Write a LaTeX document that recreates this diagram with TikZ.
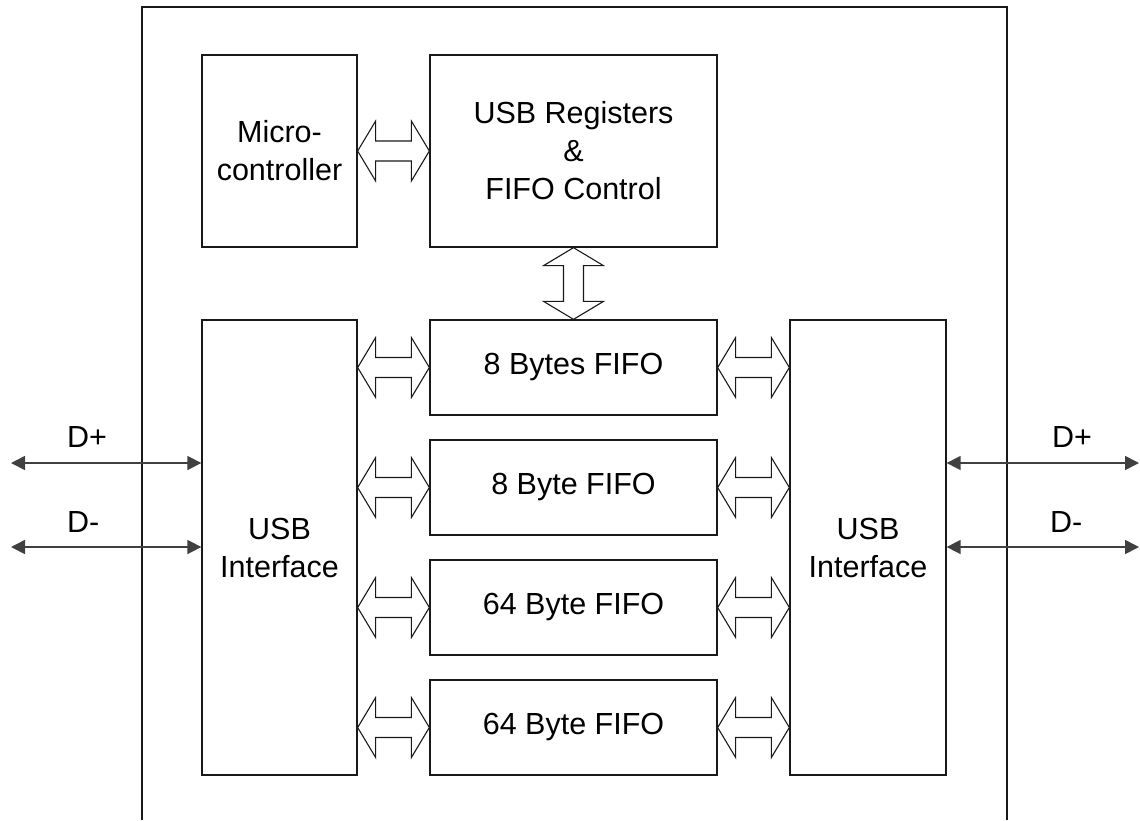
\documentclass[tikz,border=0pt]{standalone}
\usepackage{fontspec}
\setmainfont{Liberation Sans}
\usetikzlibrary{calc,arrows.meta}
\tikzset{
  blockbox/.style={draw=black!90, line width=1.3pt, inner sep=0pt, align=center,
    font=\fontsize{30.5}{38}\selectfont},
  blk/.style={draw=black!90, line width=1.1pt, fill=white, line join=miter},
  darr/.style={draw=black!75, line width=1.6pt, {Triangle[length=14pt,width=14pt]}-{Triangle[length=14pt,width=14pt]}},
  dlabel/.style={anchor=base west, inner sep=0pt, font=\fontsize{30.5}{38}\selectfont}
}
\newcommand\harrow[2]{%
  \draw[blk] (#1) -- ($(#1)+(18,30)$) -- ($(#1)+(18,10)$) -- ($(#2)+(-18,10)$) -- ($(#2)+(-18,30)$) -- (#2)
    -- ($(#2)+(-18,-30)$) -- ($(#2)+(-18,-10)$) -- ($(#1)+(18,-10)$) -- ($(#1)+(18,-30)$) -- cycle;}
\newcommand\varrow[2]{%
  \draw[blk] (#1) -- ($(#1)+(30,18)$) -- ($(#1)+(10,18)$) -- ($(#2)+(10,-18)$) -- ($(#2)+(30,-18)$) -- (#2)
    -- ($(#2)+(-30,-18)$) -- ($(#2)+(-10,-18)$) -- ($(#1)+(-10,18)$) -- ($(#1)+(-30,18)$) -- cycle;}
\begin{document}
\begin{tikzpicture}[x=1pt,y=-1pt]
\useasboundingbox[fill=white] (0,0) rectangle (1140,820);
% outer chip outline
\coordinate (obl) at (142,820);
\coordinate (otl) at (142,7);
\coordinate (otr) at (1007,7);
\coordinate (obr) at (1007,820);
\draw[draw=black!90, line width=1.3pt] (obl) -- (otl) -- (otr) -- (obr);
% blocks
\node[blockbox, minimum width=155pt, minimum height=192pt] (micro) at (279.5,151) {Micro-\\controller};
\node[blockbox, minimum width=287pt, minimum height=192pt] (reg) at (573.5,151) {USB Registers\\\&\\FIFO Control};
\node[blockbox, minimum width=287pt, minimum height=95pt] (f1) at (573.5,367.5) {8 Bytes FIFO};
\node[blockbox, minimum width=287pt, minimum height=95pt] (f2) at (573.5,487.5) {8 Byte FIFO};
\node[blockbox, minimum width=287pt, minimum height=95pt] (f3) at (573.5,607.5) {64 Byte FIFO};
\node[blockbox, minimum width=287pt, minimum height=95pt] (f4) at (573.5,727.5) {64 Byte FIFO};
\node[blockbox, minimum width=155pt, minimum height=455pt] (ul) at (279.5,547.5) {USB\\Interface};
\node[blockbox, minimum width=156pt, minimum height=455pt] (ur) at (868,547.5) {USB\\Interface};
% block arrows
\coordinate (ma) at (micro.east); \coordinate (mb) at (reg.west);
\harrow{ma}{mb}
\coordinate (va) at (reg.south); \coordinate (vb) at (f1.north);
\varrow{va}{vb}
\foreach \f in {f1,f2,f3,f4}{
  \coordinate (la) at (ul.east |- \f.west); \coordinate (lb) at (\f.west);
  \harrow{la}{lb}
  \coordinate (ra) at (\f.east); \coordinate (rb) at (ur.west |- \f.east);
  \harrow{ra}{rb}
}
% D+ / D- lines
\coordinate (dpl) at (11,463);
\coordinate (dml) at (11,547);
\coordinate (dpr) at (1139,463);
\coordinate (dmr) at (1139,547);
\draw[darr] (dpl) -- (dpl -| ul.west);
\draw[darr] (dml) -- (dml -| ul.west);
\draw[darr] (dpr -| ur.east) -- (dpr);
\draw[darr] (dmr -| ur.east) -- (dmr);
\node[dlabel] (lp) at (67,447) {D+};
\node[dlabel] (lm) at (67,532) {D-};
\node[dlabel] (rp) at (1052,447) {D+};
\node[dlabel] (rm) at (1050,532) {D-};
\end{tikzpicture}
\end{document}
